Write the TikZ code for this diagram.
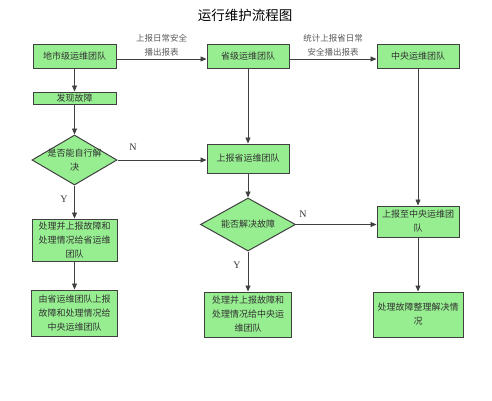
\documentclass[tikz,border=0pt]{standalone}
\usepackage{fontspec}
\setmainfont{Noto Sans CJK SC}
\newfontfamily\latinserif{Liberation Serif}
\usetikzlibrary{arrows.meta,shapes.geometric}
\definecolor{boxgreen}{RGB}{150,238,144}
\tikzset{
	txt/.style={align=center,inner sep=1pt,font=\fontsize{9}{14}\selectfont,text=black!80},
	box/.style={txt,draw=black!75,line width=1pt,fill=boxgreen},
	decision/.style={diamond,draw=black!75,line width=1pt,fill=boxgreen,inner sep=0pt},
	note/.style={align=center,inner sep=1pt,font=\fontsize{8.5}{14}\selectfont,text=black!65},
	yn/.style={font=\latinserif\fontsize{10}{12}\selectfont,text=black!80},
	flow/.style={->,draw=black!75,line width=0.8pt}
}

\begin{document}
\begin{tikzpicture}[x=1pt,y=-1pt,>={Triangle[length=6pt,width=5pt]}]
		\useasboundingbox (0,0) rectangle (492,400);
		\node[font=\fontsize{13.5}{16}\selectfont] (title) at (245,15) {运行维护流程图};
		% 地市级
		\node[box,minimum width=83pt,minimum height=24pt] (ds) at (74.5,56) {地市级运维团队};
		\node[box,minimum width=83pt,minimum height=12pt] (fx) at (74.5,98) {发现故障};
		\node[decision,minimum width=85pt,minimum height=50pt] (d1) at (74.5,160) {};
		\node[txt] (d1t) at (d1) {是否能自行解\\决};
		\node[box,minimum width=85pt,minimum height=42pt] (cl1) at (74.5,240) {处理并上报故障和\\处理情况给省运维\\团队};
		\node[box,minimum width=86pt,minimum height=46pt] (cl2) at (74.5,313) {由省运维团队上报\\故障和处理情况给\\中央运维团队};
		% 省级
		\node[box,minimum width=82pt,minimum height=24pt] (sj) at (248,56) {省级运维团队};
		\node[box,minimum width=82pt,minimum height=29pt] (sb) at (248,158.5) {上报省运维团队};
		\node[decision,minimum width=95pt,minimum height=53pt] (d2) at (248,224.5) {};
		\node[txt] (d2t) at (d2) {能否解决故障};
		\node[box,minimum width=87pt,minimum height=45pt] (cl3) at (248,314.5) {处理并上报故障和\\处理情况给中央运\\维团队};
		% 中央
		\node[box,minimum width=82pt,minimum height=24pt] (zy) at (418,56) {中央运维团队};
		\node[box,minimum width=82pt,minimum height=31pt] (zb) at (418,221.5) {上报至中央运维团\\队};
		\node[box,minimum width=90pt,minimum height=45pt] (cl4) at (418,314.5) {处理故障整理解决情\\况};
		% 连线
		\draw[flow]([yshift=-3pt]ds.east)--([yshift=-3pt]sj.west)node[midway,note,above=1pt]{上报日常安全\\播出报表};
		\draw[flow]([yshift=-3pt]sj.east)--([yshift=-3pt]zy.west)node[midway,note,above=1pt]{统计上报省日常\\安全播出报表};
		\draw[flow](ds)--(fx);
		\draw[flow](fx)--(d1);
		\draw[flow](d1)--(cl1);
		\draw[flow](cl1)--(cl2);
		\draw[flow](d1.east)--(d1.east-|sb.west);
		\draw[flow](sj)--(sb);
		\draw[flow](sb)--(d2);
		\draw[flow](d2)--(cl3);
		\draw[flow](d2.east)--(d2.east-|zb.west);
		\draw[flow](zy)--(zb);
		\draw[flow](zb)--(cl4);
		\node[yn] (n1) at (133,147) {N};
		\node[yn] (y1) at (64,199) {Y};
		\node[yn] (n2) at (303,214) {N};
		\node[yn] (y2) at (237,265) {Y};
	\end{tikzpicture}
\end{document}
